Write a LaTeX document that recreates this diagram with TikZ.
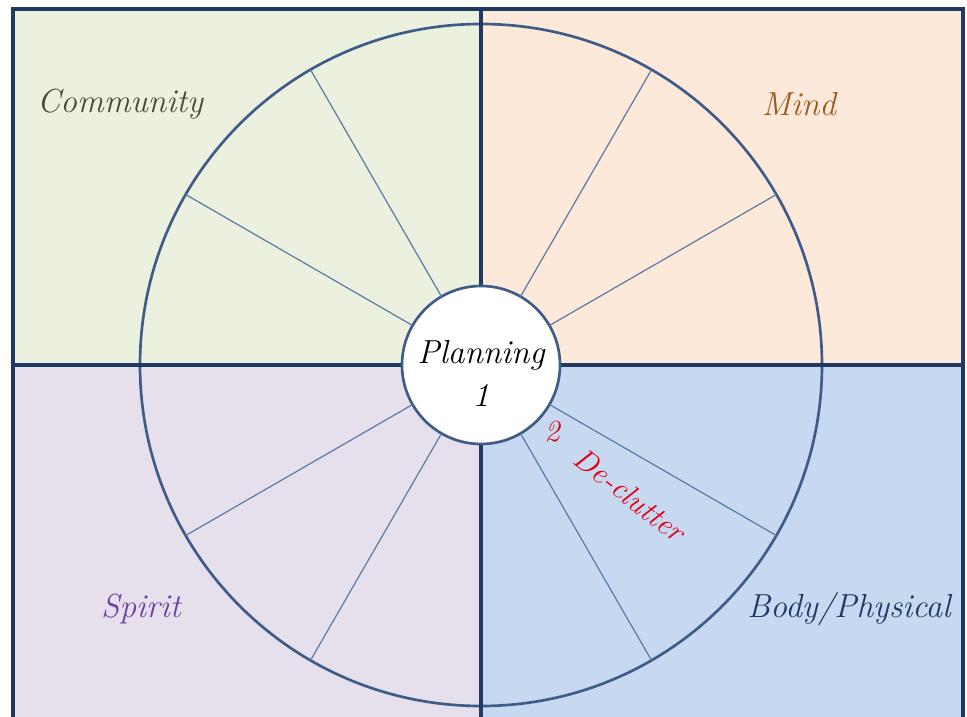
\documentclass[tikz,border=0pt]{standalone}
\usetikzlibrary{positioning}

\definecolor{commfill}{HTML}{EBF1DE}
\definecolor{mindfill}{HTML}{FDE9D9}
\definecolor{spiritfill}{HTML}{E5E0EC}
\definecolor{bodyfill}{HTML}{C6D9F1}
\definecolor{navy}{HTML}{1F3864}
\definecolor{ringblue}{HTML}{3F5C88}
\definecolor{spokeblue}{HTML}{5A7AA6}
\definecolor{commtext}{HTML}{4A4A3A}
\definecolor{mindtext}{HTML}{9C5A1C}
\definecolor{spirittext}{HTML}{7040A0}
\definecolor{bodytext}{HTML}{1F3864}
\definecolor{redtext}{HTML}{E00010}

\begin{document}
\begin{tikzpicture}[%
  x=0.75pt,y=-0.75pt,
  every node/.style={font=\fontsize{25}{30}\selectfont\itshape},
  ring/.style={draw=ringblue,line width=2pt,circle,inner sep=0pt,outer sep=0pt},
  spoke/.style={draw=spokeblue,line width=0.9pt},
  frame/.style={draw=navy,line width=2.6pt}]
  \useasboundingbox (0,0) rectangle (967,717);
  \clip (0,0) rectangle (967,717);
  % the quarters
  \fill[commfill] (13,9) rectangle (481,365);
  \fill[mindfill] (481,9) rectangle (963,365);
  \fill[spiritfill] (13,365) rectangle (481,730);
  \fill[bodyfill] (481,365) rectangle (963,730);
  % the wheel
  \node[ring,minimum size=511.5pt] (wheel) at (481,365) {};
  \draw[frame] (13,730) -- (13,9) -- (963,9) -- (963,730);
  \draw[frame] (481,9) -- (481,730);
  \draw[frame] (13,365) -- (963,365);
  \node[ring,fill=white,minimum size=118.5pt] (hub) at (481,365) {};
  \foreach \a in {30,60,120,150,210,240,300,330}
    \draw[spoke] (hub.\a) -- (wheel.\a);
  % the labels
  \node[text=commtext] (community) at (120,104) {Community};
  \node[text=mindtext] (mind) at (799,104) {Mind};
  \node[text=spirittext] (spirit) at (141,609) {Spirit};
  \node[text=bodytext] (body) at (849,609) {Body/Physical};
  \node (planning) at (481,355) {Planning};
  \node[below=4pt of planning] (one) {1};
  \node[text=redtext,inner sep=0pt,font=\fontsize{23}{27}\selectfont\itshape] (two) at (552,432) {2};
  \node[text=redtext,rotate=-38,inner sep=0pt,font=\fontsize{23}{27}\selectfont\itshape] (declutter) at (630,495) {De-clutter};
\end{tikzpicture}
\end{document}
